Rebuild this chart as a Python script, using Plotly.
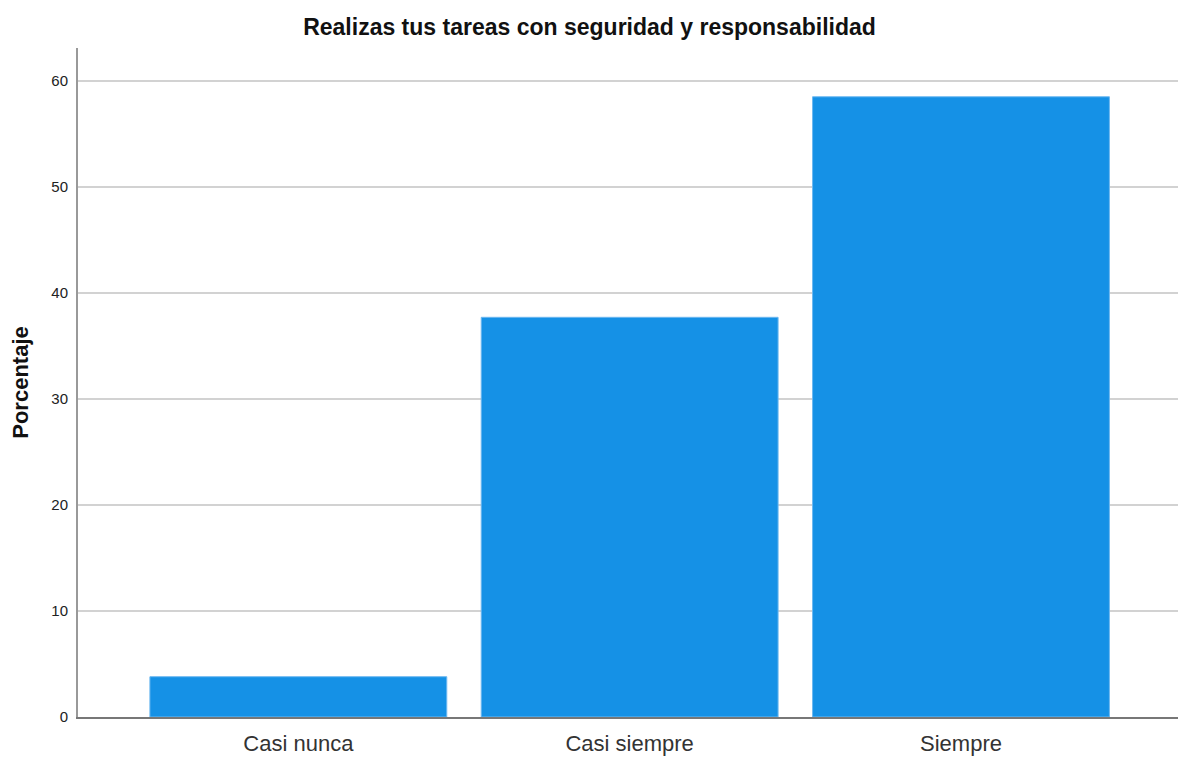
import plotly.graph_objects as go

# Respuestas y porcentajes
categorias = ["Casi nunca", "Casi siempre", "Siempre"]
porcentajes = [3.8, 37.7, 58.5]
ticks_y = [0, 10, 20, 30, 40, 50, 60]

fig = go.Figure(
    go.Bar(
        x=categorias,
        y=porcentajes,
        width=0.896,
        marker=dict(color="#1591e6", line=dict(color="#6db8f0", width=1)),
        hoverinfo="x+y",
    )
)

fig.update_layout(
    width=1179,
    height=760,
    margin=dict(l=78, r=1, t=48, b=43),
    paper_bgcolor="white",
    plot_bgcolor="white",
    font=dict(family="Liberation Sans, Arial, sans-serif", color="#222"),
    title=dict(
        text="<b>Realizas tus tareas con seguridad y responsabilidad</b>",
        x=0.5,
        xanchor="center",
        y=0.964,
        yanchor="middle",
        font=dict(size=23, color="#111"),
    ),
    showlegend=False,
    bargap=0.1,
)

fig.update_xaxes(
    type="category",
    range=[-0.665, 2.655],
    showline=True,
    linecolor="#777",
    linewidth=2,
    showgrid=False,
    ticks="",
    tickfont=dict(size=22, color="#333"),
    ticklabelstandoff=6,
)

fig.update_yaxes(
    range=[0, 63.1],
    tickvals=ticks_y,
    showline=True,
    linecolor="#999",
    linewidth=2,
    showgrid=True,
    gridcolor="#d2d2d2",
    gridwidth=2,
    zeroline=False,
    ticks="",
    tickfont=dict(size=15, color="#222"),
    ticklabelstandoff=5,
    title=dict(text="<b>Porcentaje</b>", font=dict(size=22, color="#111"), standoff=17),
)

fig.write_html("out.html")
